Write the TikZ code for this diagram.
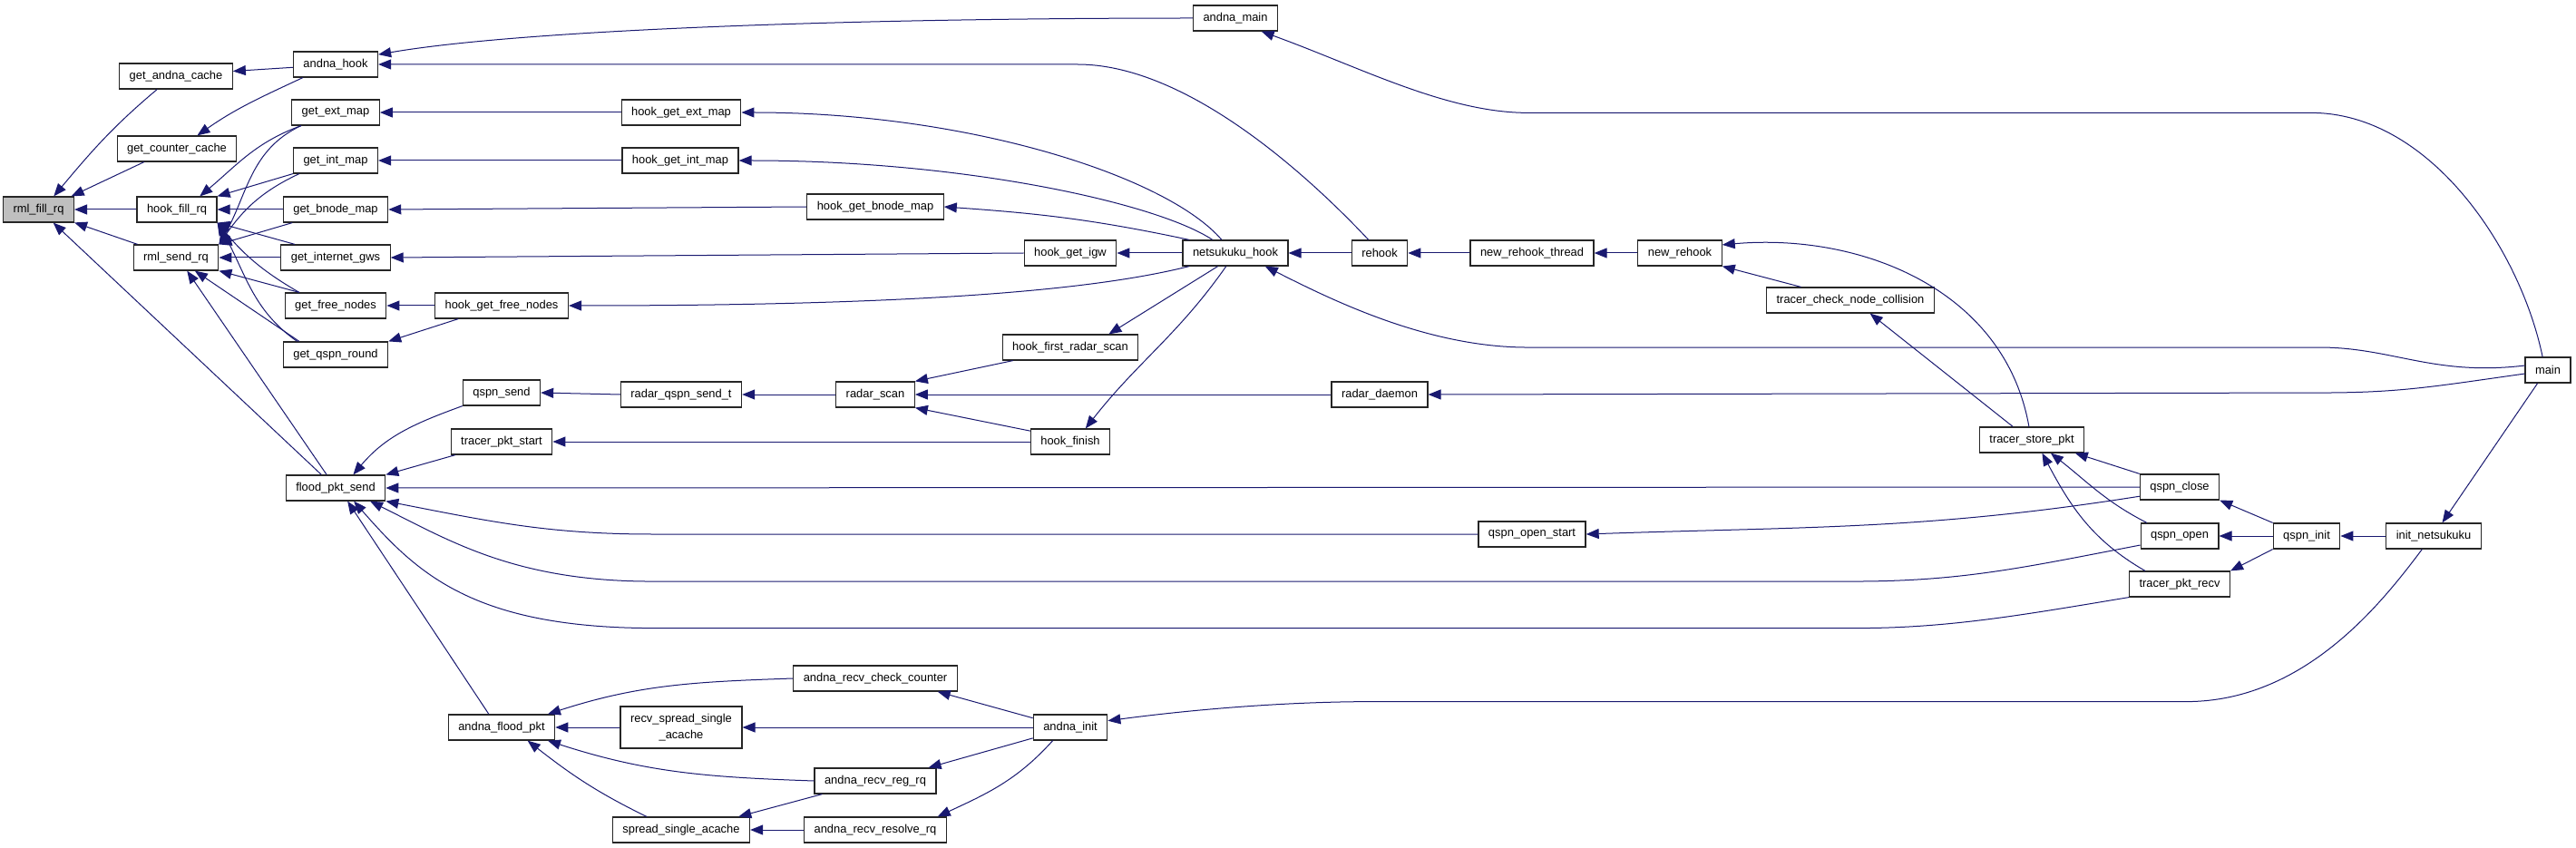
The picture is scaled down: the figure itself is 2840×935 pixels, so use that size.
\documentclass[tikz,border=0pt]{standalone}
\usepackage{fontspec}
\setmainfont{Liberation Sans}
\usetikzlibrary{arrows.meta,calc}
\definecolor{edgeblue}{RGB}{25,25,112}

\begin{document}
\begin{tikzpicture}[x=0.5pt, y=0.5pt,
  func/.style={draw=black!85, line width=0.6pt, fill=white, minimum height=14pt,
               inner xsep=5.5pt, inner ysep=0pt, font=\fontsize{6.45}{7.7}\selectfont},
  sel/.style={func, fill=gray!50},
  arr/.style={-{Triangle[length=7pt,width=5.5pt]}, draw=edgeblue, line width=0.5pt}]
\fill[white] (0,0) rectangle (2840,-935);
\node[sel]  (rmlfill)    at (42.5,-231) {rml\_fill\_rq};
\node[func] (getandna)   at (194,-84)   {get\_andna\_cache};
\node[func] (getcounter) at (195,-164)  {get\_counter\_cache};
\node[func] (hookfill)   at (195,-231)  {hook\_fill\_rq};
\node[func] (rmlsend)    at (194,-284)  {rml\_send\_rq};
\node[func] (andnahook)  at (370,-71)   {andna\_hook};
\node[func] (getext)     at (370,-124)  {get\_ext\_map};
\node[func] (getint)     at (370,-177)  {get\_int\_map};
\node[func] (getbnode)   at (370,-231)  {get\_bnode\_map};
\node[func] (getigws)    at (370,-284)  {get\_internet\_gws};
\node[func] (getfree)    at (370,-337)  {get\_free\_nodes};
\node[func] (getqspn)    at (370,-391)  {get\_qspn\_round};
\node[func] (flood)      at (370,-538)  {flood\_pkt\_send};
\node[func] (hgetfree)   at (553,-337)  {hook\_get\_free\_nodes};
\node[func] (qspnsend)   at (553,-433)  {qspn\_send};
\node[func] (tpktstart)  at (553,-487)  {tracer\_pkt\_start};
\node[func] (andnaflood) at (553,-802)  {andna\_flood\_pkt};
\node[func] (hgetext)    at (751,-124)  {hook\_get\_ext\_map};
\node[func] (hgetint)    at (750,-177)  {hook\_get\_int\_map};
\node[func] (radarqspn)  at (751,-435)  {radar\_qspn\_send\_t};
\node[func, align=center, inner ysep=4pt, font=\fontsize{6.45}{9}\selectfont]
            (recvspread) at (751,-802)  {recv\_spread\_single\\\_acache};
\node[func] (spreadsingle) at (751,-915) {spread\_single\_acache};
\node[func] (hgetbnode)  at (965,-228)  {hook\_get\_bnode\_map};
\node[func] (radarscan)  at (965,-435)  {radar\_scan};
\node[func] (recvcheck)  at (965,-748)  {andna\_recv\_check\_counter};
\node[func] (recvreg)    at (965,-861)  {andna\_recv\_reg\_rq};
\node[func] (recvresolve) at (965,-915) {andna\_recv\_resolve\_rq};
\node[func] (hgetigw)    at (1180,-279) {hook\_get\_igw};
\node[func] (hfirstradar) at (1180,-383) {hook\_first\_radar\_scan};
\node[func] (hookfinish) at (1180,-487) {hook\_finish};
\node[func] (andnainit)  at (1180,-802) {andna\_init};
\node[func] (andnamain)  at (1362,-20)  {andna\_main};
\node[func] (netsukuku)  at (1362,-279) {netsukuku\_hook};
\node[func] (rehook)     at (1521,-279) {rehook};
\node[func] (radardaemon) at (1521,-435) {radar\_daemon};
\node[func] (newrehookthread) at (1689,-279) {new\_rehook\_thread};
\node[func] (qspnopenstart) at (1689,-589) {qspn\_open\_start};
\node[func] (newrehook)  at (1852,-279) {new\_rehook};
\node[func] (tcheck)     at (2040,-331) {tracer\_check\_node\_collision};
\node[func] (tstore)     at (2240,-485) {tracer\_store\_pkt};
\node[func] (qspnclose)  at (2403,-537) {qspn\_close};
\node[func] (qspnopen)   at (2403,-591) {qspn\_open};
\node[func] (tpktrecv)   at (2403,-644) {tracer\_pkt\_recv};
\node[func] (qspninit)   at (2543,-591) {qspn\_init};
\node[func] (initnet)    at (2683,-591) {init\_netsukuku};
\node[func] (main)       at (2809,-408) {main};
\draw[arr] (getandna.215) to[out=220,in=50] (rmlfill.41);
\draw[arr] (getcounter.202) -- (rmlfill.22);
\draw[arr] (hookfill.west) -- (rmlfill.east);
\draw[arr] (rmlsend.161) -- (rmlfill.-20);
\draw[arr] (flood.137) -- (rmlfill.-42);
\draw[arr] (andnahook.184) -- (getandna.5);
\draw[arr] (andnahook.202) to[out=205,in=35] (getcounter.33);
\draw[arr] (getext.201) to[out=200,in=40] (hookfill.30);
\draw[arr] (getint.south west) -- (hookfill.north east);
\draw[arr] (getbnode.west) -- (hookfill.east);
\draw[arr] (getigws.162) -- (hookfill.south east);
\draw[arr] (getfree.160) to[out=150,in=-50] (hookfill.south east);
\draw[arr] (getqspn.161) to[out=145,in=-60] (hookfill.south east);
\draw[arr] (getext.201) to[out=205,in=60] (rmlsend.north east);
\draw[arr] (getint.200) to[out=205,in=55] (rmlsend.north east);
\draw[arr] (getbnode.197) -- (rmlsend.north east);
\draw[arr] (getigws.west) -- (rmlsend.east);
\draw[arr] (getfree.160) -- (rmlsend.south east);
\draw[arr] (getqspn.160) -- (rmlsend.-35);
\draw[arr] (flood.124) -- (rmlsend.-50);
\draw[arr] (andnamain.west) .. controls +(-400,0) and +(150,26) .. (andnahook.13);
\draw[arr] (rehook.130) .. controls +(-80,85) and +(113,0) .. ($(andnahook.east)+(771,0)$) -- (andnahook.east);
\draw[arr] (main.112) .. controls +(-25,120) and +(130,0) .. ($(main.112)+(-255,269)$)
  -- ($(main.112)+(-1118,269)$) .. controls +(-90,0) and +(110,-40) .. (andnamain.-27);
\draw[arr] (hgetext.west) -- (getext.east);
\draw[arr] (hgetint.west) -- (getint.east);
\draw[arr] (hgetbnode.west) -- (getbnode.east);
\draw[arr] (hgetigw.west) -- (getigws.east);
\draw[arr] (hgetfree.west) -- (getfree.east);
\draw[arr] (hgetfree.197) -- (getqspn.north east);
\draw[arr] (netsukuku.136) .. controls +(-60,70) and +(250,0) .. (hgetext.east);
\draw[arr] (netsukuku.150) .. controls +(-60,40) and +(250,0) .. (hgetint.east);
\draw[arr] (netsukuku.164) to[out=168,in=-4] (hgetbnode.east);
\draw[arr] (netsukuku.west) -- (hgetigw.east);
\draw[arr] (netsukuku.196) .. controls +(-100,-25) and +(400,0) .. (hgetfree.east);
\draw[arr] (rehook.west) -- (netsukuku.east);
\draw[arr] (main.169) .. controls +(-100,-12) and +(80,0) .. ($(main.169)+(-226,20)$)
  -- ($(main.169)+(-1099,20)$) .. controls +(-110,0) and +(75,-38) .. (netsukuku.-24);
\draw[arr] (netsukuku.217) -- (hfirstradar.19);
\draw[arr] (netsukuku.235) to[out=235,in=52] (hookfinish.41);
\draw[arr] (radarscan.west) -- (radarqspn.east);
\draw[arr] (hfirstradar.193) -- (radarscan.north east);
\draw[arr] (radardaemon.west) -- (radarscan.east);
\draw[arr] (hookfinish.165) -- (radarscan.south east);
\draw[arr] (main.189) .. controls +(-100,-14) and +(90,0) .. ($(main.189)+(-226,-21)$) -- (radardaemon.east);
\draw[arr] (radarqspn.west) -- (qspnsend.east);
\draw[arr] (qspnsend.south west) to[out=200,in=50] (flood.37);
\draw[arr] (tpktstart.196) -- (flood.north east);
\draw[arr] (hookfinish.west) -- (tpktstart.east);
\draw[arr] (qspnclose.west) -- (flood.east);
\draw[arr] (qspnopenstart.west) -- ($(qspnopenstart.west)+(-910,0)$) to[out=180,in=-11] (flood.south east);
\draw[arr] (qspnopen.193) .. controls +(-130,-25) and +(120,0) .. ($(qspnopen.193)+(-317,-40)$)
  -- ($(qspnopen.193)+(-1640,-40)$) .. controls +(-150,0) and +(90,-45) .. (flood.-21);
\draw[arr] (tpktrecv.south west) .. controls +(-120,-20) and +(100,0) .. ($(tpktrecv.south west)+(-300,-34)$)
  -- ($(tpktrecv.south west)+(-1625,-34)$) .. controls +(-200,0) and +(70,-80) .. (flood.-36);
\draw[arr] (qspnclose.193) to[out=189,in=2] (qspnopenstart.east);
\draw[arr] (andnaflood.134) -- (flood.-48);
\draw[arr] (tstore.145) -- (tcheck.-34);
\draw[arr] (tcheck.165) -- (newrehook.south east);
\draw[arr] (tstore.102) to[out=100,in=5] (newrehook.11);
\draw[arr] (newrehook.west) -- (newrehookthread.east);
\draw[arr] (newrehookthread.west) -- (rehook.east);
\draw[arr] (qspnclose.north west) -- (tstore.-17);
\draw[arr] (qspnopen.158) to[out=153,in=-38] (tstore.-35);
\draw[arr] (tpktrecv.159) to[out=150,in=-62] (tstore.-52);
\draw[arr] (qspninit.north west) -- (qspnclose.south east);
\draw[arr] (qspninit.west) -- (qspnopen.east);
\draw[arr] (qspninit.south west) -- (tpktrecv.north east);
\draw[arr] (initnet.west) -- (qspninit.east);
\draw[arr] (main.232) -- (initnet.57);
\draw[arr] (initnet.229) .. controls +(-45,-60) and +(130,0) .. ($(initnet.229)+(-260,-168)$)
  -- ($(initnet.229)+(-1156,-168)$) .. controls +(-100,0) and +(90,12) .. (andnainit.10);
\draw[arr] (recvcheck.west) to[out=182,in=18] (andnaflood.16);
\draw[arr] (recvspread.west) -- (andnaflood.east);
\draw[arr] (recvreg.west) to[out=178,in=-18] (andnaflood.-16);
\draw[arr] (spreadsingle.159) to[out=154,in=-38] (andnaflood.-27);
\draw[arr] (andnainit.166) -- (recvcheck.-12);
\draw[arr] (andnainit.west) -- (recvspread.east);
\draw[arr] (andnainit.196) -- (recvreg.14);
\draw[arr] (andnainit.217) to[out=228,in=25] (recvresolve.12);
\draw[arr] (recvreg.194) -- (spreadsingle.13);
\draw[arr] (recvresolve.west) -- (spreadsingle.east);
\end{tikzpicture}
\end{document}
